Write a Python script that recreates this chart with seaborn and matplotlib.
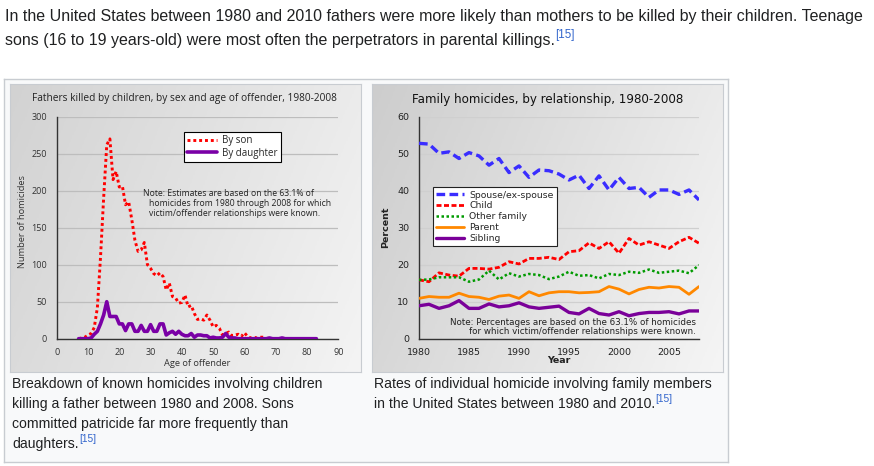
import numpy as np
import pandas as pd
import matplotlib
matplotlib.use("Agg")
import matplotlib.pyplot as plt
from matplotlib.ticker import MultipleLocator
from matplotlib.colors import LinearSegmentedColormap
import seaborn as sns

# ---------------- data ----------------
ages = list(range(7, 84))
son = [0, 1, 2, 5, 7, 15, 42, 110, 190, 262, 270, 215, 226, 205, 206, 181, 185, 161, 133, 118,
       120, 130, 100, 95, 88, 85, 89, 84, 66, 75, 57, 55, 48, 49, 59, 43, 45, 34, 26, 27,
       25, 32, 25, 16, 18, 14, 5, 7, 9, 4, 5, 6, 3, 8, 3, 1, 2, 1, 2, 2,
       0, 1, 0, 0, 0, 1, 0, 0, 0, 0, 0, 0, 0, 0, 0, 0, 0]
daughter = [0, 0, 0, 0, 1, 6, 10, 20, 32, 50, 30, 30, 30, 20, 20, 11, 20, 20, 10, 10,
            18, 10, 10, 19, 10, 10, 20, 20, 5, 8, 10, 6, 10, 6, 4, 4, 7, 2, 5, 5,
            4, 4, 1, 2, 1, 1, 2, 7, 2, 1, 1, 0, 0, 0, 0, 0, 0, 0, 0, 0,
            0, 1, 0, 0, 0, 1, 0, 0, 0, 0, 0, 0, 0, 0, 0, 0, 0]

years = list(range(1980, 2009))
spouse = [52.8, 52.6, 50.1, 50.5, 48.7, 50.3, 49.4, 46.9, 48.7, 44.9, 46.7, 43.6, 45.6, 45.4, 44.5,
          42.9, 44.2, 40.6, 44.0, 40.2, 43.6, 40.6, 40.9, 38.2, 40.2, 40.2, 39.0, 40.2, 37.5]
child = [15.9, 15.4, 17.8, 17.2, 16.9, 19.0, 19.0, 18.8, 19.3, 20.8, 20.2, 21.7, 21.7, 22.0, 21.4,
         23.5, 23.8, 25.9, 24.4, 26.2, 23.1, 27.1, 25.3, 26.2, 25.3, 24.4, 26.2, 27.4, 25.8]
other_family = [15.9, 16.0, 16.6, 16.6, 16.6, 15.4, 16.0, 18.4, 16.0, 17.7, 16.8, 17.5, 17.2, 16.1, 16.8,
                18.1, 17.0, 17.2, 16.3, 17.5, 17.2, 18.1, 17.8, 18.7, 17.8, 18.1, 18.4, 17.7, 19.9]
parent = [10.9, 11.4, 11.2, 11.2, 12.3, 11.4, 11.2, 10.6, 11.5, 11.8, 10.9, 12.7, 11.6, 12.4, 12.7,
          12.7, 12.4, 12.5, 12.7, 14.1, 13.4, 12.1, 13.3, 13.9, 13.7, 14.1, 13.9, 12.0, 14.1]
sibling = [8.9, 9.3, 8.2, 8.9, 10.3, 8.2, 8.2, 9.4, 8.6, 8.9, 9.7, 8.6, 8.2, 8.5, 8.8,
           7.1, 6.7, 8.2, 6.8, 6.4, 7.3, 6.2, 6.8, 7.1, 7.1, 7.3, 6.7, 7.5, 7.5]

page_line1 = "In the United States between 1980 and 2010 fathers were more likely than mothers to be killed by their children. Teenage"
page_line2 = "sons (16 to 19 years-old) were most often the perpetrators in parental killings."
cap_left = ["Breakdown of known homicides involving children",
            "killing a father between 1980 and 2008. Sons",
            "committed patricide far more frequently than",
            "daughters."]
cap_right = ["Rates of individual homicide involving family members",
             "in the United States between 1980 and 2010."]
ref = "[15]"

# ---------------- figure ----------------
W, H = 874, 466
sns.set_style("white")
fig = plt.figure(figsize=(W / 100, H / 100), dpi=100)
fig.patch.set_facecolor("white")
renderer = fig.canvas.get_renderer()


def rect(x0, y0, x1, y1):
    return [x0 / W, 1 - y1 / H, (x1 - x0) / W, (y1 - y0) / H]


def fx(x):
    return x / W


def fy(y):
    return 1 - y / H


# outer thumbnail frame (as a background axes so it sits below the images)
frame = fig.add_axes(rect(4, 79, 728, 462), zorder=0)
frame.set_facecolor("#f8f9fa")
frame.set_xticks([])
frame.set_yticks([])
for s in frame.spines.values():
    s.set_color("#c8ccd1")
    s.set_linewidth(1.0)


# gradient image backgrounds
def gradient_bg(x0, y0, x1, y1, c_dark, c_light, diag=0.35):
    bg = fig.add_axes(rect(x0, y0, x1, y1), zorder=1)
    xs = np.linspace(0, 1, 200)
    ys = np.linspace(0, 1, 200)
    X, Y = np.meshgrid(xs, ys)
    g = (X + diag * Y) / (1 + diag)
    cmap = LinearSegmentedColormap.from_list("g", [c_dark, c_light])
    bg.imshow(g, cmap=cmap, aspect="auto", extent=[0, 1, 0, 1], origin="upper",
              vmin=0, vmax=1)
    bg.set_xticks([])
    bg.set_yticks([])
    for s in bg.spines.values():
        s.set_color("#c8ccd1")
        s.set_linewidth(0.8)
    return bg

gradient_bg(10, 84, 361, 372, "#d2d2d2", "#f4f4f4")
gradient_bg(372, 84, 723, 372, "#cdcdcd", "#f5f5f5")

# ---------------- left chart ----------------
lf = "Open Sans"
axL = fig.add_axes(rect(56.7, 116.7, 338.3, 338.7), zorder=2)
axL.patch.set_alpha(0)
dfL = pd.DataFrame({"age": ages, "son": son, "daughter": daughter})
sns.lineplot(data=dfL, x="age", y="son", ax=axL, color="#ff0000", lw=2.1,
             linestyle=(0, (1, 1)), label="By son", zorder=3)
sns.lineplot(data=dfL, x="age", y="daughter", ax=axL, color="#7a00a6", lw=2.6,
             label="By daughter", zorder=4)
axL.set_xlim(0, 90)
axL.set_ylim(0, 300)
axL.xaxis.set_major_locator(MultipleLocator(10))
axL.xaxis.set_minor_locator(MultipleLocator(2))
axL.yaxis.set_major_locator(MultipleLocator(50))
axL.yaxis.set_minor_locator(MultipleLocator(10))
axL.grid(axis="y", which="major", color="#bdbdbd", lw=0.9)
axL.set_axisbelow(True)
for s in ["top", "right"]:
    axL.spines[s].set_visible(False)
for s in ["left", "bottom"]:
    axL.spines[s].set_color("#333333")
    axL.spines[s].set_linewidth(1.0)
axL.tick_params(which="major", direction="out", length=5, width=0.9, color="#333333",
                labelsize=6.5, labelcolor="#333333", pad=2)
axL.tick_params(which="minor", direction="out", length=3, width=0.8, color="#333333")
for lab in axL.get_xticklabels() + axL.get_yticklabels():
    lab.set_family(lf)
axL.set_xlabel("Age of offender", family=lf, fontsize=6.7, color="#333333", labelpad=1)
axL.set_ylabel("Number of homicides", family=lf, fontsize=6.7, color="#333333")
axL.yaxis.set_label_coords(-0.107, 0.526)
legL = axL.legend(loc="upper left", bbox_to_anchor=(fx(184), fy(131.5)),
                  bbox_transform=fig.transFigure, prop={"family": lf, "size": 7.0},
                  frameon=True, fancybox=False, framealpha=1, edgecolor="black",
                  handlelength=3.0, handletextpad=0.55, labelspacing=0.2,
                  borderpad=0.35, borderaxespad=0)
legL.get_frame().set_linewidth(0.8)
fig.text(fx(184.5), fy(99), "Fathers killed by children, by sex and age of offender, 1980-2008",
         family=lf, fontsize=7.3, color="#222222", ha="center", va="center")
fig.text(fx(142.7), fy(193.3), "Note: Estimates are based on the 63.1% of",
         family=lf, fontsize=6.2, color="#222222", ha="left", va="center")
fig.text(fx(149), fy(203.5), "homicides from 1980 through 2008 for which",
         family=lf, fontsize=6.2, color="#222222", ha="left", va="center")
fig.text(fx(149), fy(214), "victim/offender relationships were known.",
         family=lf, fontsize=6.2, color="#222222", ha="left", va="center")

# ---------------- right chart ----------------
rf = "DejaVu Sans"
axR = fig.add_axes(rect(419, 116.7, 699, 338.7), zorder=2)
axR.patch.set_alpha(0)
dfR = pd.DataFrame({"year": years, "spouse": spouse, "child": child,
                    "other": other_family, "parent": parent, "sibling": sibling})
sns.lineplot(data=dfR, x="year", y="spouse", ax=axR, color="#3a2dff", lw=2.4,
             linestyle=(0, (2.6, 1.3)), label="Spouse/ex-spouse", zorder=3)
sns.lineplot(data=dfR, x="year", y="child", ax=axR, color="#ff0000", lw=2.0,
             linestyle=(0, (1.8, 0.9)), label="Child", zorder=3)
sns.lineplot(data=dfR, x="year", y="other", ax=axR, color="#009a00", lw=1.8,
             linestyle=(0, (1, 1)), label="Other family", zorder=3)
sns.lineplot(data=dfR, x="year", y="parent", ax=axR, color="#ff8800", lw=2.0,
             label="Parent", zorder=3)
sns.lineplot(data=dfR, x="year", y="sibling", ax=axR, color="#7a0099", lw=2.4,
             label="Sibling", zorder=3)
axR.set_xlim(1980, 2008)
axR.set_ylim(0, 60)
axR.xaxis.set_major_locator(MultipleLocator(5))
axR.xaxis.set_minor_locator(MultipleLocator(1))
axR.yaxis.set_major_locator(MultipleLocator(10))
axR.yaxis.set_minor_locator(MultipleLocator(2))
axR.grid(axis="y", which="major", color="#cfcfcf", lw=0.9)
axR.set_axisbelow(True)
for s in ["top", "right"]:
    axR.spines[s].set_visible(False)
for s in ["left", "bottom"]:
    axR.spines[s].set_color("#333333")
    axR.spines[s].set_linewidth(1.0)
axR.tick_params(which="major", direction="out", length=5, width=0.9, color="#333333",
                labelsize=6.8, labelcolor="#222222", pad=2)
axR.tick_params(which="minor", direction="out", length=3, width=0.8, color="#333333")
axR.set_xlabel("Year", family=rf, fontsize=6.8, fontweight="bold", color="#222222", labelpad=-1)
axR.set_ylabel("Percent", family=rf, fontsize=6.8, fontweight="bold", color="#222222", labelpad=5)
legR = axR.legend(loc="upper left", bbox_to_anchor=(fx(432.7), fy(187.3)),
                  bbox_transform=fig.transFigure, prop={"family": rf, "size": 6.7},
                  frameon=True, fancybox=False, framealpha=1, edgecolor="#222222",
                  handlelength=3.0, handletextpad=0.6, labelspacing=0.2,
                  borderpad=0.35, borderaxespad=0)
legR.get_frame().set_linewidth(0.8)
fig.text(fx(547.5), fy(99), "Family homicides, by relationship, 1980-2008",
         family=rf, fontsize=8.6, color="#111111", ha="center", va="center")
fig.text(fx(696), fy(322.5), "Note: Percentages are based on the 63.1% of homicides",
         family=rf, fontsize=6.3, color="#222222", ha="right", va="center")
fig.text(fx(696), fy(331.5), "for which victim/offender relationships were known.",
         family=rf, fontsize=6.3, color="#222222", ha="right", va="center")

# ---------------- page text ----------------
pf = "Liberation Sans"
txt_col = "#202122"
link_col = "#3366cc"


def fit_size(s, target, family, base=10.0):
    t = fig.text(0, 0, s, fontsize=base, family=family)
    w = t.get_window_extent(renderer).width
    t.remove()
    return base * target / w


def add_ref(t, size, dy=-5):
    ext = t.get_window_extent(renderer)
    x = ext.x1 + 0.5
    yc = (ext.y0 + ext.y1) / 2
    fig.text(x / W, (yc - dy) / H, ref, fontsize=size * 0.72, family=pf,
             color=link_col, ha="left", va="center")


ps = fit_size(page_line1, 863, pf)
fig.text(fx(5), fy(17), page_line1, fontsize=ps, family=pf, color=txt_col, ha="left", va="center")
t2 = fig.text(fx(5), fy(40), page_line2, fontsize=ps, family=pf, color=txt_col, ha="left", va="center")
add_ref(t2, ps, dy=-5)

cs = fit_size(cap_left[0], 310, pf)
last = None
for i, line in enumerate(cap_left):
    last = fig.text(fx(12), fy(384 + 20 * i), line, fontsize=cs, family=pf, color=txt_col,
                    ha="left", va="center")
add_ref(last, cs, dy=-4.5)
for i, line in enumerate(cap_right):
    last = fig.text(fx(374), fy(384 + 20 * i), line, fontsize=cs, family=pf, color=txt_col,
                    ha="left", va="center")
add_ref(last, cs, dy=-4.5)

fig.savefig("out.png", dpi=100, facecolor="white")
